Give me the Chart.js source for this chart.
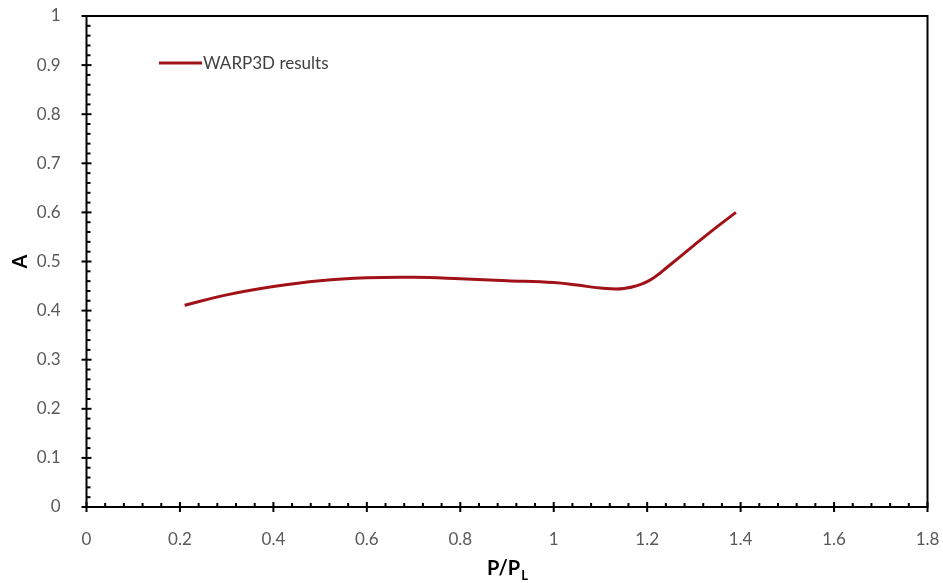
<!DOCTYPE html>
<html><head><meta charset="utf-8">
<script src="https://cdn.jsdelivr.net/npm/chart.js@4.4.1/dist/chart.umd.min.js"></script>
<style>html,body{margin:0;padding:0;background:#fff}#wrap{width:943px;height:583px}</style>
</head><body><div id="wrap"><canvas id="c" width="943" height="583"></canvas></div>
<script>
const seriesName = "WARP3D results";
const xValues = [0.21, 0.30, 0.40, 0.50, 0.60, 0.70, 0.80, 0.90, 1.00, 1.05, 1.10, 1.15, 1.20, 1.25, 1.30, 1.35, 1.39];
const yValues = [0.411, 0.432, 0.449, 0.461, 0.467, 0.468, 0.465, 0.461, 0.457, 0.452, 0.446, 0.445, 0.459, 0.494, 0.533, 0.571, 0.600];
const xTicks = [0, 0.2, 0.4, 0.6, 0.8, 1, 1.2, 1.4, 1.6, 1.8];
const yTicks = [0, 0.1, 0.2, 0.3, 0.4, 0.5, 0.6, 0.7, 0.8, 0.9, 1];
const xTitleMain = "P/P", xTitleSub = "L", yTitle = "A";

const LINE = '#a01218';
const FONT = "Lato, 'Open Sans', sans-serif";

const decor = {
  id: 'decor',
  afterDraw(chart) {
    const ctx = chart.ctx, a = chart.chartArea;
    const xs = chart.scales.x, ys = chart.scales.y;
    ctx.save();
    ctx.strokeStyle = '#000'; ctx.lineWidth = 2;
    ctx.strokeRect(a.left, a.top, a.right - a.left, a.bottom - a.top);
    for (let i = 0; i < xTicks.length; i++) {
      const px = xs.getPixelForValue(xTicks[i]);
      ctx.beginPath(); ctx.moveTo(px, a.bottom - 5); ctx.lineTo(px, a.bottom + 5); ctx.stroke();
      if (i < xTicks.length - 1) {
        const step = (xTicks[i + 1] - xTicks[i]) / 5;
        for (let k = 1; k < 5; k++) {
          const mx = xs.getPixelForValue(xTicks[i] + k * step);
          ctx.beginPath(); ctx.moveTo(mx, a.bottom); ctx.lineTo(mx, a.bottom - 4); ctx.stroke();
        }
      }
    }
    for (let i = 0; i < yTicks.length; i++) {
      const py = ys.getPixelForValue(yTicks[i]);
      ctx.beginPath(); ctx.moveTo(a.left - 5, py); ctx.lineTo(a.left + 5, py); ctx.stroke();
      if (i < yTicks.length - 1) {
        const step = (yTicks[i + 1] - yTicks[i]) / 5;
        for (let k = 1; k < 5; k++) {
          const my = ys.getPixelForValue(yTicks[i] + k * step);
          ctx.beginPath(); ctx.moveTo(a.left, my); ctx.lineTo(a.left + 4, my); ctx.stroke();
        }
      }
    }
    // legend
    ctx.strokeStyle = LINE; ctx.lineWidth = 3;
    ctx.beginPath(); ctx.moveTo(159, 63); ctx.lineTo(202, 63); ctx.stroke();
    ctx.fillStyle = '#404040'; ctx.font = '17px ' + FONT;
    ctx.textBaseline = 'middle'; ctx.textAlign = 'left';
    ctx.fillText(seriesName, 203, 64);
    // axis titles
    ctx.fillStyle = '#000';
    ctx.font = 'bold 20px ' + FONT;
    const w1 = ctx.measureText(xTitleMain).width;
    ctx.font = 'bold 13px ' + FONT;
    const w2 = ctx.measureText(xTitleSub).width;
    const cx = (a.left + a.right) / 2;
    const sx = cx - (w1 + w2) / 2;
    ctx.textBaseline = 'alphabetic';
    ctx.font = 'bold 20px ' + FONT;
    ctx.fillText(xTitleMain, sx, 575);
    ctx.font = 'bold 13px ' + FONT;
    ctx.fillText(xTitleSub, sx + w1 + 1, 580);
    ctx.save();
    ctx.translate(27, (a.top + a.bottom) / 2);
    ctx.rotate(-Math.PI / 2);
    ctx.font = 'bold 20px ' + FONT; ctx.textAlign = 'center';
    ctx.fillText(yTitle, 0, 0);
    ctx.restore();
    ctx.restore();
  }
};

new Chart(document.getElementById('c'), {
  type: 'line',
  data: {
    datasets: [{
      label: seriesName,
      data: xValues.map((x, i) => ({ x, y: yValues[i] })),
      borderColor: LINE, borderWidth: 3, pointRadius: 0,
      tension: 0.4, fill: false
    }]
  },
  options: {
    responsive: false, animation: false,
    layout: { padding: { left: 0, right: 15.5, top: 16, bottom: 0 } },
    plugins: { legend: { display: false }, tooltip: { enabled: false } },
    scales: {
      x: {
        type: 'linear', min: 0, max: 1.8,
        afterBuildTicks: s => { s.ticks = xTicks.map(v => ({ value: v })); },
        afterFit: s => { s.height = 76; s.paddingLeft = 0; s.paddingRight = 0; },
        grid: { display: false }, border: { display: false },
        ticks: { padding: 14, color: '#595959', font: { family: FONT, size: 17 }, maxRotation: 0,
          callback: v => String(Math.round(v * 10) / 10) }
      },
      y: {
        type: 'linear', min: 0, max: 1,
        afterBuildTicks: s => { s.ticks = yTicks.map(v => ({ value: v })); },
        afterFit: s => { s.width = 86.5; s.paddingTop = 0; s.paddingBottom = 0; },
        grid: { display: false }, border: { display: false },
        ticks: { padding: 18, color: '#595959', font: { family: FONT, size: 17 },
          callback: v => String(Math.round(v * 10) / 10) }
      }
    }
  },
  plugins: [decor]
});
</script></body></html>
